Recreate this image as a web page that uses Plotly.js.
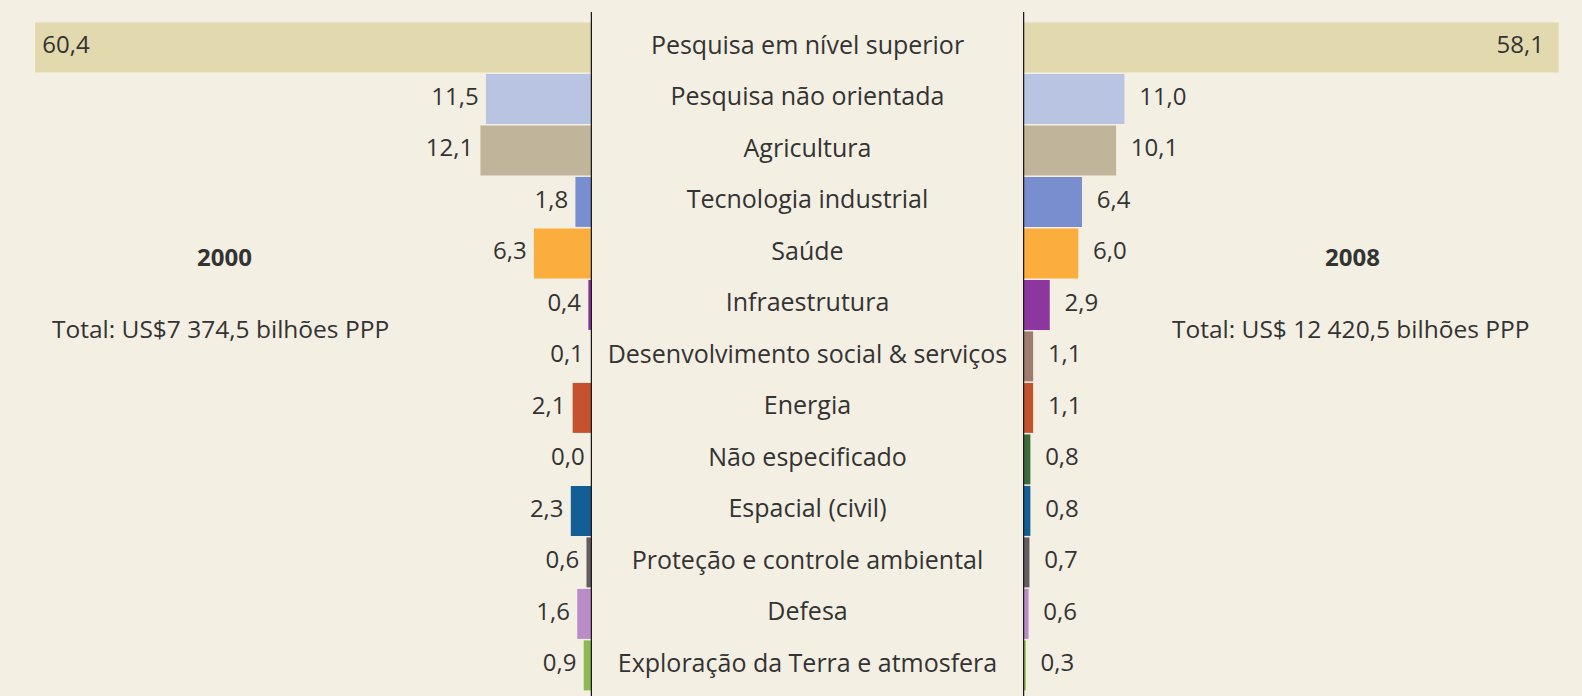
<!DOCTYPE html>
<html>
<head>
<meta charset="utf-8">
<script src="https://cdn.plot.ly/plotly-3.0.1.min.js"></script>
<style>
  html, body { margin: 0; padding: 0; background: #f4efe3; }
  #chart { width: 1582px; height: 696px; }
</style>
</head>
<body>
<div id="chart"></div>
<script>
const categories = [
  "Pesquisa em nível superior",
  "Pesquisa não orientada",
  "Agricultura",
  "Tecnologia industrial",
  "Saúde",
  "Infraestrutura",
  "Desenvolvimento social & serviços",
  "Energia",
  "Não especificado",
  "Espacial (civil)",
  "Proteção e controle ambiental",
  "Defesa",
  "Exploração da Terra e atmosfera"
];
const values2000 = [60.4, 11.5, 12.1, 1.8, 6.3, 0.4, 0.1, 2.1, 0.0, 2.3, 0.6, 1.6, 0.9];
const values2008 = [58.1, 11.0, 10.1, 6.4, 6.0, 2.9, 1.1, 1.1, 0.8, 0.8, 0.7, 0.6, 0.3];
const barColors = [
  "#e2d9ae", "#b8c4e2", "#c0b49a", "#788ece", "#fbad3e", "#8d36a0",
  "#a07c70", "#c4522e", "#3c6a3c", "#145e96", "#645c60", "#b98cc8", "#8cb950"
];
const yearLeft = "2000";
const yearRight = "2008";
const totalLeft = "Total: US$7 374,5 bilhões PPP";
const totalRight = "Total: US$ 12 420,5 bilhões PPP";

const fmt = v => v.toFixed(1).replace(".", ",");
const FONT = "Open Sans, sans-serif";
const TXT = "#333333";

const W = 1582;
const leftEdge = 592 / W;
const rightEdge = 1023 / W;
const pxPerUnit = 9.22;

function barTrace(vals, xa) {
  return {
    type: "bar", orientation: "h",
    x: vals, y: categories,
    xaxis: xa, yaxis: "y",
    marker: { color: barColors, line: { width: 0 } },
    width: 0.97,
    hoverinfo: "none", showlegend: false
  };
}
function labelTrace(vals, xa, outsidePos, insidePos, pad) {
  return {
    type: "scatter", mode: "markers+text",
    x: vals, y: categories,
    xaxis: xa, yaxis: "y",
    marker: { size: pad, color: "rgba(0,0,0,0)", line: { width: 0 } },
    text: vals.map(fmt),
    textposition: vals.map((v, i) => i === 0 ? insidePos : outsidePos),
    cliponaxis: false,
    textfont: { family: FONT, size: 24, color: TXT },
    hoverinfo: "none", showlegend: false
  };
}

const traces = [
  barTrace(values2000, "x"),
  barTrace(values2008, "x2"),
  labelTrace(values2000, "x", "middle left", "middle right", 10),
  labelTrace(values2008, "x2", "middle right", "middle left", 22),
  {
    type: "scatter", mode: "text",
    x: categories.map(() => 0), y: categories,
    text: categories,
    textposition: "middle center",
    xaxis: "x3", yaxis: "y",
    cliponaxis: false,
    textfont: { family: FONT, size: 25, color: TXT },
    hoverinfo: "none", showlegend: false
  }
];

const plotH = 696 - 12;
const rowPx = 51.5;
const topOffset = 35.4 / rowPx;
const nUnits = plotH / rowPx;

const hiddenX = {
  showgrid: false, zeroline: false, showticklabels: false, showline: false, ticks: "", fixedrange: true
};

const layout = {
  width: 1582, height: 696,
  margin: { l: 0, r: 0, t: 12, b: 0, pad: 0 },
  paper_bgcolor: "#f4efe3",
  plot_bgcolor: "rgba(0,0,0,0)",
  font: { family: FONT, color: TXT },
  bargap: 0.03,
  xaxis: Object.assign({}, hiddenX, {
    domain: [0, leftEdge], range: [(leftEdge * W) / pxPerUnit, 0]
  }),
  xaxis2: Object.assign({}, hiddenX, {
    domain: [rightEdge, 1], range: [0, ((1 - rightEdge) * W) / pxPerUnit], anchor: "y"
  }),
  xaxis3: Object.assign({}, hiddenX, {
    domain: [leftEdge, rightEdge], range: [-1, 1], anchor: "y"
  }),
  yaxis: {
    type: "category",
    categoryorder: "array", categoryarray: categories,
    range: [nUnits - topOffset, -topOffset],
    showgrid: false, zeroline: false, showticklabels: false, showline: false, ticks: "", fixedrange: true
  },
  shapes: [
    { type: "line", xref: "x", yref: "paper", x0: 0, x1: 0, y0: 0, y1: 1,
      line: { color: "#1a1a1a", width: 2.5 }, layer: "above" },
    { type: "line", xref: "x2", yref: "paper", x0: 0, x1: 0, y0: 0, y1: 1,
      line: { color: "#1a1a1a", width: 2.5 }, layer: "above" }
  ],
  annotations: [
    { text: "<b>" + yearLeft + "</b>", xref: "paper", yref: "paper", x: 224 / W, y: (696 - 256) / plotH,
      showarrow: false, xanchor: "center", yanchor: "middle", font: { family: FONT, size: 24, color: TXT } },
    { text: totalLeft, xref: "paper", yref: "paper", x: 220 / W, y: (696 - 328) / plotH,
      showarrow: false, xanchor: "center", yanchor: "middle", font: { family: FONT, size: 24.5, color: TXT } },
    { text: "<b>" + yearRight + "</b>", xref: "paper", yref: "paper", x: 1352 / W, y: (696 - 256) / plotH,
      showarrow: false, xanchor: "center", yanchor: "middle", font: { family: FONT, size: 24, color: TXT } },
    { text: totalRight, xref: "paper", yref: "paper", x: 1351 / W, y: (696 - 328) / plotH,
      showarrow: false, xanchor: "center", yanchor: "middle", font: { family: FONT, size: 24.5, color: TXT } }
  ]
};

Plotly.newPlot("chart", traces, layout, { displayModeBar: false, staticPlot: true });
</script>
</body>
</html>
